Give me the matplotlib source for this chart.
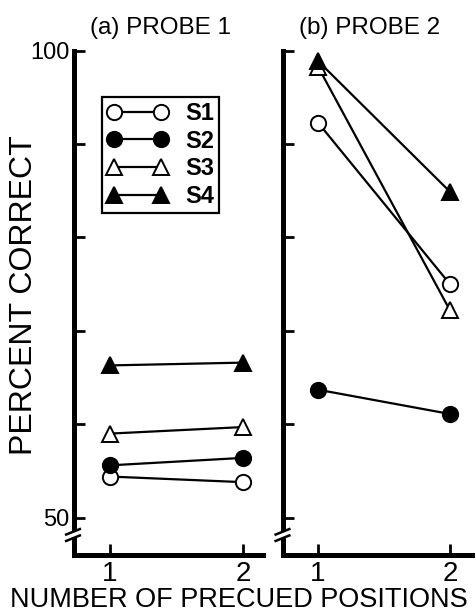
import matplotlib
matplotlib.use('Agg')
import matplotlib.pyplot as plt
from matplotlib.patches import Polygon

plt.rcParams['font.family'] = ['Liberation Sans', 'DejaVu Sans']

# ---------------- data ----------------
positions = [1, 2]
xtick_labels = ['1', '2']
yticks = [50, 60, 70, 80, 90, 100]
ytick_labels = ['50', '', '', '', '', '100']
subjects = ['S1', 'S2', 'S3', 'S4']

s1_probe1 = [54.4, 53.8]
s2_probe1 = [55.6, 56.4]
s3_probe1 = [59.0, 59.7]
s4_probe1 = [66.3, 66.6]

s1_probe2 = [92.3, 75.0]
s2_probe2 = [63.7, 61.1]
s3_probe2 = [98.3, 72.2]
s4_probe2 = [98.9, 84.9]

probe1 = [s1_probe1, s2_probe1, s3_probe1, s4_probe1]
probe2 = [s1_probe2, s2_probe2, s3_probe2, s4_probe2]

markers = ['o', 'o', '^', '^']
faces = ['white', 'black', 'white', 'black']

W, H = 476, 612
fig = plt.figure(figsize=(W / 100, H / 100), dpi=100)

bottom_px, top_px = 555, 50.7
ax_h = (bottom_px - top_px) / H
ax_b = 1 - bottom_px / H

axL = fig.add_axes([73.5 / W, ax_b, (263 - 73.5) / W, ax_h])
axR = fig.add_axes([283 / W, ax_b, (472 - 283) / W, ax_h])


def style_axes(ax, xlim, labels):
    ax.set_xlim(*xlim)
    ax.set_ylim(46.0, 100)
    for s in ['top', 'right']:
        ax.spines[s].set_visible(False)
    for s in ['left', 'bottom']:
        ax.spines[s].set_linewidth(3.6)
        ax.spines[s].set_capstyle('projecting')
    ax.set_yticks(yticks)
    ax.set_xticks(positions)
    ax.set_xticklabels(xtick_labels)
    ax.tick_params(axis='both', direction='in', length=8, width=2)
    ax.tick_params(axis='x', labelsize=20, pad=4)
    if labels:
        ax.set_yticklabels(ytick_labels)
        ax.tick_params(axis='y', labelsize=17, pad=3)
    else:
        ax.tick_params(axis='y', labelleft=False)
    ax.patch.set_alpha(0)


def draw_break(ax):
    bb = ax.get_position()
    wpx = bb.width * W
    hpx = bb.height * H
    yc = (bottom_px - 535) / hpx

    def p(dx, dy, off):
        return (dx / wpx, yc + (dy + off) / hpx)

    gap = Polygon([p(-8, -3, -3.2), p(7, 3, -3.2), p(7, 3, 3.2), p(-8, -3, 3.2)],
                  closed=True, transform=ax.transAxes, facecolor='white',
                  edgecolor='none', clip_on=False, zorder=5)
    ax.add_patch(gap)
    for off in (-3.2, 3.2):
        a = p(-8.5, -3.2, off)
        b = p(7.5, 3.2, off)
        ax.plot([a[0], b[0]], [a[1], b[1]], color='black', lw=1.8,
                transform=ax.transAxes, clip_on=False, zorder=6,
                solid_capstyle='butt')


style_axes(axL, (0.7256, 2.150), True)
style_axes(axR, (0.735, 2.167), False)

for ax, data in ((axL, probe1), (axR, probe2)):
    for name, vals, m, fc in zip(subjects, data, markers, faces):
        ax.plot(positions, vals, color='black', lw=1.6, marker=m,
                markersize=11, markerfacecolor=fc, markeredgecolor='black',
                markeredgewidth=1.4, label=name, clip_on=False, zorder=3)
    draw_break(ax)

leg = axL.legend(loc='upper left', bbox_to_anchor=(0.149, 0.909),
                 borderaxespad=0, numpoints=2, handlelength=2.6,
                 handletextpad=0.7, borderpad=0.22, labelspacing=0.2,
                 frameon=True, fancybox=False, framealpha=1,
                 prop={'size': 17, 'weight': 'bold'})
leg.get_frame().set_edgecolor('black')
leg.get_frame().set_linewidth(1.6)

fig.text(161 / W, 1 - 34 / H, '(a) PROBE 1', ha='center', va='baseline',
         fontsize=17.5)
fig.text(370 / W, 1 - 34 / H, '(b) PROBE 2', ha='center', va='baseline',
         fontsize=17.5)
fig.text(24 / W, 1 - 295 / H, 'PERCENT CORRECT', rotation=90,
         ha='center', va='center', fontsize=23)
fig.text(239 / W, 1 - 607 / H, 'NUMBER OF PRECUED POSITIONS',
         ha='center', va='baseline', fontsize=19.5)

fig.savefig('out.png', dpi=100)
